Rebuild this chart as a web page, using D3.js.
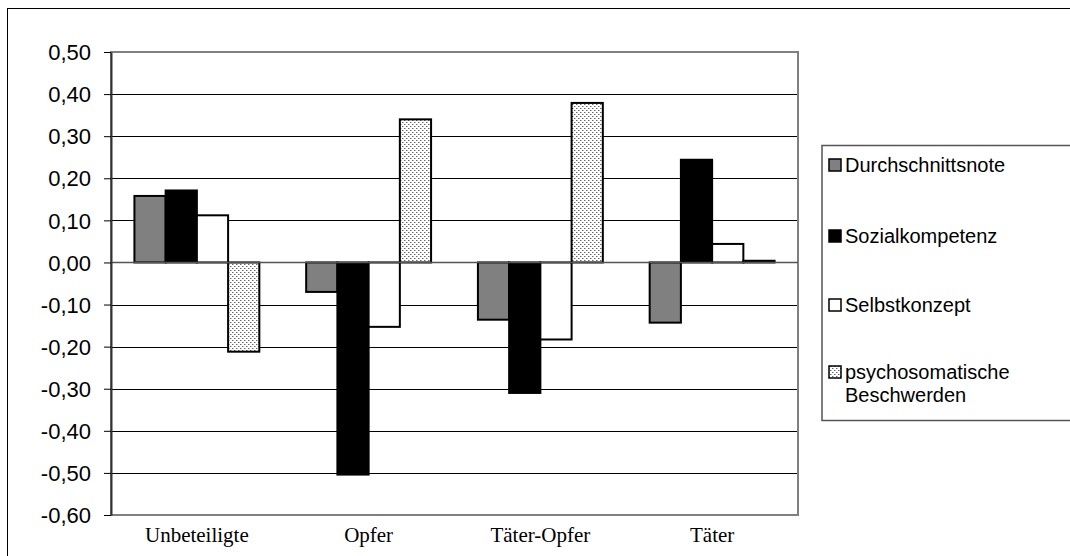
<!DOCTYPE html>
<html><head><meta charset="utf-8">
<script src="https://cdn.jsdelivr.net/npm/d3@7"></script>
<style>html,body{margin:0;padding:0;background:#fff;}svg{display:block;}</style>
</head><body>
<script>
const categories = ["Unbeteiligte", "Opfer", "Täter-Opfer", "Täter"];
const seriesNames = ["Durchschnittsnote", "Sozialkompetenz", "Selbstkonzept", "psychosomatische Beschwerden"];
const durchschnittsnote = [0.158, -0.070, -0.136, -0.143];
const sozialkompetenz = [0.171, -0.504, -0.310, 0.244];
const selbstkonzept = [0.112, -0.153, -0.183, 0.044];
const psychosomatisch = [-0.212, 0.340, 0.379, 0.004];
const yTicks = [0.5, 0.4, 0.3, 0.2, 0.1, 0, -0.1, -0.2, -0.3, -0.4, -0.5, -0.6];
const seriesValues = [durchschnittsnote, sozialkompetenz, selbstkonzept, psychosomatisch];

const W = 1070, H = 556;
const svg = d3.select("body").append("svg").attr("width", W).attr("height", H);
const defs = svg.append("defs");
const pat = defs.append("pattern").attr("id", "dots").attr("patternUnits", "userSpaceOnUse")
  .attr("width", 4).attr("height", 4);
pat.append("rect").attr("width", 4).attr("height", 4).attr("fill", "#fff");
pat.append("rect").attr("x", 0).attr("y", 0).attr("width", 1).attr("height", 1).attr("fill", "#666");
pat.append("rect").attr("x", 2).attr("y", 2).attr("width", 1).attr("height", 1).attr("fill", "#666");
pat.append("rect").attr("x", 1).attr("y", 0).attr("width", 1).attr("height", 1).attr("fill", "#bbb");
pat.append("rect").attr("x", 3).attr("y", 2).attr("width", 1).attr("height", 1).attr("fill", "#bbb");

const fills = ["#808080", "#000000", "#ffffff", "url(#dots)"];

svg.append("rect").attr("width", W).attr("height", H).attr("fill", "#fff");
// outer frame
svg.append("rect").attr("x", 7.5).attr("y", 8.5).attr("width", 1100).attr("height", 600)
  .attr("fill", "none").attr("stroke", "#000").attr("stroke-width", 1);

const px0 = 111, px1 = 798, pyTop = 52, pyBot = 515;
const y = d3.scaleLinear().domain([-0.6, 0.5]).range([pyBot, pyTop]);
const x = d3.scaleBand().domain(categories).range([px0, px1]).padding(0);
const xs = d3.scaleBand().domain(d3.range(seriesNames.length)).range([0, x.bandwidth()])
  .paddingInner(0).paddingOuter(0.75);

// gridlines
svg.append("g").selectAll("line").data(yTicks.filter(t => t < 0.45 && t > -0.55 && t !== 0))
  .join("line").attr("x1", px0).attr("x2", px1)
  .attr("y1", d => Math.round(y(d)) + 0.5).attr("y2", d => Math.round(y(d)) + 0.5)
  .attr("stroke", "#000").attr("stroke-width", 1);

// plot border
svg.append("rect").attr("x", px0).attr("y", pyTop).attr("width", px1 - px0).attr("height", pyBot - pyTop)
  .attr("fill", "none").attr("stroke", "#808080").attr("stroke-width", 2);

// bars
const rows = [];
categories.forEach((c, ci) => seriesValues.forEach((vals, si) => rows.push({c, si, v: vals[ci]})));
svg.append("g").selectAll("rect").data(rows).join("rect")
  .attr("x", d => x(d.c) + xs(d.si))
  .attr("width", xs.bandwidth())
  .attr("y", d => y(Math.max(0, d.v)))
  .attr("height", d => Math.abs(y(d.v) - y(0)))
  .attr("fill", d => fills[d.si])
  .attr("stroke", "#000").attr("stroke-width", 2);

// zero line (category axis)
svg.append("line").attr("x1", px0).attr("x2", px1).attr("y1", y(0)).attr("y2", y(0))
  .attr("stroke", "#555").attr("stroke-width", 1.5);

// y axis
const yAxis = d3.axisLeft(y).tickValues(yTicks).tickSize(7).tickSizeOuter(0)
  .tickFormat(d => d3.format(".2f")(d).replace(".", ",").replace("−", "-"));
const gy = svg.append("g").attr("transform", `translate(${px0},0)`).call(yAxis);
gy.select(".domain").attr("stroke", "#333").attr("stroke-width", 2);
gy.selectAll(".tick line").attr("stroke", "#000");
gy.selectAll(".tick text").attr("x", -20).attr("dy", "0.35em")
  .attr("font-family", "Arial, 'Liberation Sans', sans-serif").attr("font-size", 22).attr("fill", "#000");

// category labels
const xAxis = d3.axisBottom(x).tickSize(0).tickPadding(0);
const gx = svg.append("g").attr("transform", `translate(0,${pyBot})`).call(xAxis);
gx.select(".domain").remove();
gx.selectAll(".tick text").attr("y", 20).attr("dy", "0.35em")
  .attr("font-family", "'Times New Roman', 'Liberation Serif', serif").attr("font-size", 21).attr("fill", "#000");

// legend
const lg = svg.append("g");
lg.append("rect").attr("x", 822).attr("y", 145.5).attr("width", 300).attr("height", 275)
  .attr("fill", "#fff").attr("stroke", "#555").attr("stroke-width", 1.5);
const legY = [165, 236, 305, 372];
seriesNames.forEach((name, i) => {
  lg.append("rect").attr("x", 829).attr("y", legY[i] - 6).attr("width", 12).attr("height", 12)
    .attr("fill", fills[i]).attr("stroke", "#000").attr("stroke-width", 1.5);
  const words = i === 3 ? ["psychosomatische", "Beschwerden"] : [name];
  const t = lg.append("text").attr("x", 845).attr("y", legY[i]).attr("dy", "0.35em")
    .attr("font-family", "Arial, 'Liberation Sans', sans-serif").attr("font-size", 20).attr("fill", "#000");
  words.forEach((w, wi) => t.append("tspan").attr("x", 845).attr("dy", wi === 0 ? "0.35em" : "1.15em").text(w));
});
</script>
</body></html>
